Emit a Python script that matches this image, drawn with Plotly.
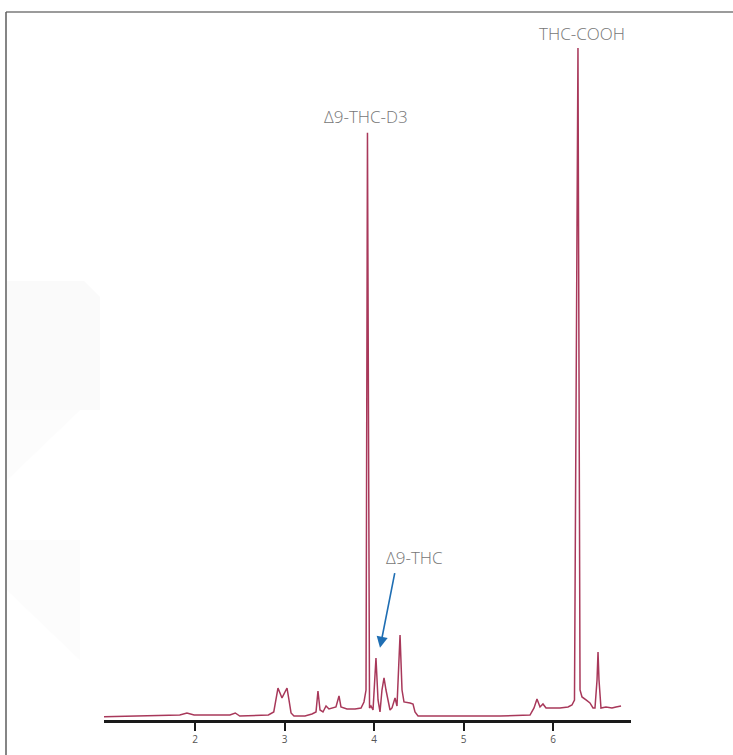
import plotly.graph_objects as go

W, H = 733, 755

# Retention time (min) and relative detector response (%)
time_min = [0.98, 1.50, 1.83, 1.91, 1.99, 2.39, 2.45, 2.50, 2.82, 2.88, 2.905, 2.927, 2.972,
            3.028, 3.050, 3.073, 3.106, 3.229, 3.307, 3.352, 3.374, 3.397, 3.430, 3.464, 3.497,
            3.542, 3.575, 3.609, 3.631, 3.698, 3.788, 3.855, 3.888, 3.911, 3.927, 3.950, 3.966,
            3.989, 4.022, 4.045, 4.067, 4.089, 4.112, 4.134, 4.156, 4.179, 4.201, 4.223, 4.235,
            4.257, 4.279, 4.291, 4.313, 4.335, 4.402, 4.436, 4.458, 4.492, 4.737, 5.073, 5.408,
            5.743, 5.788, 5.821, 5.855, 5.888, 5.922, 5.966, 6.078, 6.168, 6.212, 6.240, 6.279,
            6.302, 6.324, 6.369, 6.413, 6.447, 6.469, 6.492, 6.503, 6.514, 6.536, 6.592, 6.659,
            6.704, 6.760]
response = [-0.1, 0.0, 0.15, 0.45, 0.15, 0.15, 0.45, 0.0, 0.15, 0.6, 2.4, 4.19, 2.7,
            4.19, 2.4, 0.45, 0.0, 0.0, 0.3, 0.6, 3.74, 0.9, 0.6, 1.5, 1.05,
            1.2, 1.35, 3.0, 1.35, 1.05, 1.05, 1.2, 2.1, 3.89, 87.3, 1.2, 1.5,
            0.9, 8.68, 2.4, 0.6, 3.89, 5.69, 3.89, 2.4, 0.9, 1.2, 2.1, 2.7,
            1.5, 8.38, 12.13, 3.89, 2.1, 1.95, 1.8, 0.6, 0.0, 0.0, 0.0, 0.0,
            0.15, 1.2, 2.55, 1.35, 1.8, 1.2, 1.2, 1.2, 1.35, 1.65, 2.4, 100.0,
            3.89, 2.85, 2.4, 1.95, 1.2, 1.2, 5.39, 9.58, 5.39, 1.2, 1.35, 1.2,
            1.35, 1.5]

tick_vals = [2, 3, 4, 5, 6]
tick_text = ["2", "3", "4", "5", "6"]

# Peak labels: (text, time, response)
peak_labels = [("THC-COOH", 6.324, 102.2), ("Δ9-THC-D3", 3.911, 89.8)]
thc_label = ("Δ9-THC", 4.458, 23.8)
thc_arrow_tip = (4.067, 10.2)
thc_arrow_tail = (4.235, 21.6)

# axis geometry (pixels)
x_left_px, x_right_px = 104, 631
axis_px = 720
t_per_px = 1 / 89.5
x_range = [2 + (x_left_px - 195) * t_per_px, 2 + (x_right_px - 195) * t_per_px]
resp_per_px = 1 / 6.68
y_range = [(716 - axis_px) * resp_per_px, 716 * resp_per_px]


def px(x):
    return x / W


def py(y):
    return 1 - y / H


fig = go.Figure()
fig.add_trace(go.Scatter(
    x=time_min, y=response, mode="lines",
    line=dict(color="#a8385a", width=1.5),
    hoverinfo="skip", showlegend=False,
))

text_font = dict(family="Open Sans, sans-serif", size=17, color="#767676", weight=300)
annotations = []
for txt, t, r in peak_labels:
    annotations.append(dict(x=t, y=r, text=txt, showarrow=False, font=text_font,
                            xanchor="center", yanchor="middle"))
annotations.append(dict(x=thc_label[1], y=thc_label[2], text=thc_label[0], showarrow=False,
                        font=text_font, xanchor="center", yanchor="middle"))
annotations.append(dict(x=thc_arrow_tip[0], y=thc_arrow_tip[1],
                        ax=thc_arrow_tail[0], ay=thc_arrow_tail[1],
                        axref="x", ayref="y", text="", showarrow=True,
                        arrowhead=2, arrowsize=1.4, arrowwidth=1.6, arrowcolor="#1f6eb3"))

# faint background facets on the left and the outer frame
def poly(pts):
    return "M " + " L ".join(f"{px(a):.5f},{py(b):.5f}" for a, b in pts) + " Z"

shapes = [
    dict(type="path", xref="paper", yref="paper", layer="below", line=dict(width=0),
         fillcolor="#fafafa",
         path=poly([(7, 281), (84, 281), (100, 297), (100, 410), (7, 410)])),
    dict(type="path", xref="paper", yref="paper", layer="below", line=dict(width=0),
         fillcolor="#fcfcfc",
         path=poly([(7, 410), (80, 410), (7, 480)])),
    dict(type="path", xref="paper", yref="paper", layer="below", line=dict(width=0),
         fillcolor="#fcfcfc",
         path=poly([(7, 540), (80, 540), (80, 660), (7, 590)])),
    dict(type="line", xref="paper", yref="paper", x0=px(6), x1=1, y0=py(12), y1=py(12),
         line=dict(color="#7a7a7a", width=1.5)),
    dict(type="line", xref="paper", yref="paper", x0=px(6), x1=px(6), y0=py(12), y1=0,
         line=dict(color="#5c5c5c", width=1.5)),
]

fig.update_layout(
    width=W, height=H,
    margin=dict(l=0, r=0, t=0, b=0),
    paper_bgcolor="white", plot_bgcolor="rgba(0,0,0,0)",
    xaxis=dict(domain=[px(x_left_px), px(x_right_px)], range=x_range,
               showgrid=False, zeroline=False, showline=True, linecolor="#1a1a1a",
               linewidth=3, ticks="outside", ticklen=8, tickwidth=2, tickcolor="#1a1a1a",
               tickvals=tick_vals, ticktext=tick_text,
               tickfont=dict(family="Open Sans, sans-serif", size=10, color="#555")),
    yaxis=dict(domain=[py(axis_px), 1], range=y_range, visible=False),
    annotations=annotations,
    shapes=shapes,
)

fig.write_html("out.html")
